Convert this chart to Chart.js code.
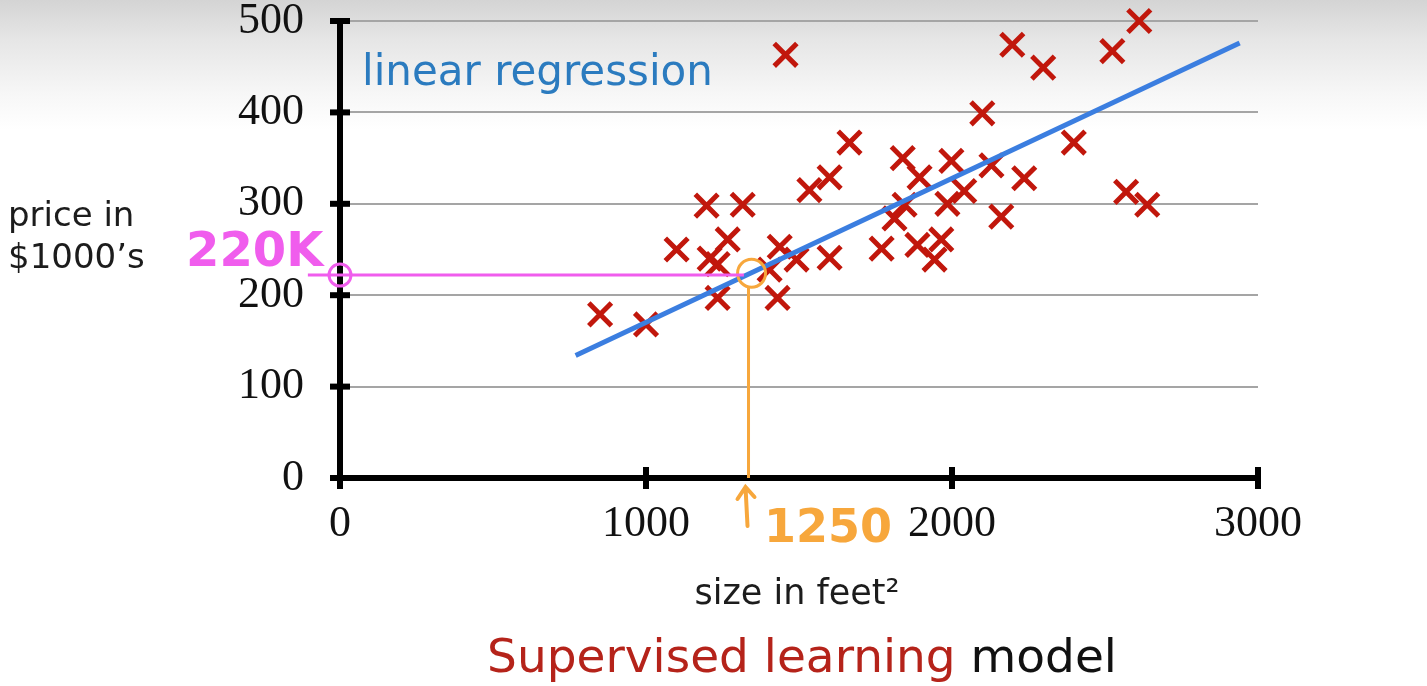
<!DOCTYPE html>
<html>
<head>
<meta charset="utf-8">
<title>Supervised learning model</title>
<script src="https://cdn.jsdelivr.net/npm/chart.js@4.4.1/dist/chart.umd.min.js"></script>
<style>
  html, body { margin: 0; padding: 0; }
  body {
    width: 1427px; height: 686px; overflow: hidden;
    background: linear-gradient(to bottom, #d4d4d4 0px, #e6e6e6 40px, #f7f7f7 95px, #ffffff 130px);
  }
  #wrap { position: relative; width: 1427px; height: 686px; }
</style>
</head>
<body>
<div id="wrap"><canvas id="chart"></canvas></div>
<script>
// house sizes (feet^2) and prices ($1000's)
const sizes = [850, 1000, 1100, 1198, 1208, 1234, 1234, 1267, 1316, 1404, 1430, 1437, 1456, 1492,
  1534, 1600, 1600, 1665, 1770, 1812, 1839, 1845, 1887, 1894, 1943, 1965, 1985, 1998,
  2040, 2099, 2129, 2161, 2197, 2236, 2298, 2398, 2524, 2569, 2612, 2638];
const prices = [179, 168, 250, 298, 240, 234, 197, 261, 299, 228, 197, 253, 463, 239,
  315, 329, 241, 367, 251, 284, 350, 299, 255, 329, 239, 261, 300, 347,
  314, 399, 342, 286, 474, 328, 449, 367, 467, 313, 500, 299];

// fitted line end points
const fitX = [770, 2940];
const fitY = [134, 476];

// hand-drawn marks: 220K across, 1250 up
const guideX = [-105, 1320];
const guideY = [222, 222];
const dropX = [1335, 1335];
const dropY = [208, 0];
const markX = 1345;
const markY = 224;

const xTicks = [0, 1000, 2000, 3000];
const yTicks = [0, 100, 200, 300, 400, 500];

const RED = '#c1170c';
const BLUE = '#3b7ee0';
const PINK = '#f05ded';
const ORANGE = '#f7a73c';

const toPts = (xs, ys) => xs.map((x, i) => ({ x: x, y: ys[i] }));

// black tick marks crossing the axes
const axisTicks = {
    id: 'axisTicks',
    afterDraw(chart) {
        const c = chart.ctx;
        const xs = chart.scales.x, ys = chart.scales.y;
        const x0 = xs.getPixelForValue(0), y0 = ys.getPixelForValue(0);
        c.save();
        c.strokeStyle = '#000';
        c.lineWidth = 6;
        yTicks.forEach(v => {
            const py = ys.getPixelForValue(v);
            c.beginPath(); c.moveTo(x0 - 10, py); c.lineTo(x0 + 10, py); c.stroke();
        });
        xTicks.forEach(v => {
            const px = xs.getPixelForValue(v);
            c.beginPath(); c.moveTo(px, y0 - 11); c.lineTo(px, y0 + 11); c.stroke();
        });
        c.restore();
    }
};

// titles and the handwritten notes
const notes = {
    id: 'notes',
    afterDraw(chart) {
        const c = chart.ctx;
        const xs = chart.scales.x, ys = chart.scales.y;
        c.save();
        c.textBaseline = 'alphabetic';

        c.fillStyle = '#2b7bbf';
        c.font = '42px "DejaVu Sans"';
        c.fillText('linear regression', 362, 85);

        c.fillStyle = '#1c1c1c';
        c.font = '34px "DejaVu Sans"';
        c.fillText('price in', 8, 226);
        c.fillText('$1000\u2019s', 8, 268);

        c.font = '35px "DejaVu Sans"';
        c.textAlign = 'center';
        c.fillText('size in feet\u00b2', 797, 604);

        c.textAlign = 'left';
        c.font = '47px "DejaVu Sans"';
        const red = 'Supervised learning ';
        const w1 = c.measureText(red).width;
        const w2 = c.measureText('model').width;
        const start = 802 - (w1 + w2) / 2;
        c.fillStyle = '#b5231a';
        c.fillText(red, start, 672);
        c.fillStyle = '#111';
        c.fillText('model', start + w1, 672);

        // 220K
        c.fillStyle = PINK;
        c.font = 'bold 48px "DejaVu Sans"';
        c.fillText('220K', 186, 266);

        // 1250 with arrow
        const ax = xs.getPixelForValue(dropX[1]) - 3;
        const ay = ys.getPixelForValue(0);
        c.fillStyle = ORANGE;
        c.font = 'bold 46px "DejaVu Sans"';
        c.fillText('1250', 764, 542);
        c.strokeStyle = ORANGE;
        c.lineWidth = 4;
        c.lineCap = 'round';
        c.beginPath();
        c.moveTo(ax + 2, ay + 48);
        c.lineTo(ax, ay + 9);
        c.moveTo(ax - 8, ay + 21);
        c.lineTo(ax, ay + 9);
        c.lineTo(ax + 9, ay + 19);
        c.stroke();
        c.restore();
    }
};

new Chart(document.getElementById('chart'), {
    type: 'scatter',
    data: {
        datasets: [
            {
                label: 'price',
                data: toPts(sizes, prices),
                pointStyle: 'crossRot',
                pointRadius: 16,
                borderWidth: 5,
                borderColor: RED,
                backgroundColor: RED,
                clip: false,
                order: 2
            },
            {
                label: 'linear regression',
                type: 'line',
                data: toPts(fitX, fitY),
                borderColor: BLUE,
                borderWidth: 5,
                pointRadius: 0,
                order: 1
            },
            {
                label: '220K',
                type: 'line',
                data: toPts(guideX, guideY),
                borderColor: PINK,
                borderWidth: 3,
                pointRadius: 0,
                clip: false,
                order: 0
            },
            {
                label: '220K mark',
                data: [{ x: 0, y: guideY[0] }],
                pointStyle: 'circle',
                pointRadius: 11,
                borderWidth: 3,
                borderColor: PINK,
                backgroundColor: 'rgba(0,0,0,0)',
                clip: false,
                order: 0
            },
            {
                label: '1250',
                type: 'line',
                data: toPts(dropX, dropY),
                borderColor: ORANGE,
                borderWidth: 3,
                pointRadius: 0,
                clip: false,
                order: 0
            },
            {
                label: '1250 mark',
                data: [{ x: markX, y: markY }],
                pointStyle: 'circle',
                pointRadius: 14,
                borderWidth: 3,
                borderColor: ORANGE,
                backgroundColor: 'rgba(0,0,0,0)',
                order: 0
            }
        ]
    },
    options: {
        responsive: true,
        maintainAspectRatio: false,
        animation: false,
        events: [],
        layout: { padding: { top: 18, right: 169, left: 0, bottom: 0 } },
        plugins: { legend: { display: false }, tooltip: { enabled: false } },
        scales: {
            x: {
                type: 'linear',
                min: 0,
                max: 3000,
                ticks: {
                    stepSize: 1000,
                    padding: 20,
                    color: '#111',
                    font: { family: '"Liberation Serif"', size: 44 },
                    callback: v => String(v)
                },
                grid: { display: false, drawTicks: false },
                border: { color: '#000', width: 6 },
                afterFit: s => { s.height = 208; s.paddingLeft = 0; s.paddingRight = 0; }
            },
            y: {
                min: 0,
                max: 500,
                ticks: {
                    stepSize: 100,
                    padding: 36,
                    color: '#111',
                    font: { family: '"Liberation Serif"', size: 44, lineHeight: 0.8 },
                    callback: v => String(v)
                },
                grid: { color: '#a5a5a5', lineWidth: 2, drawTicks: false },
                border: { color: '#000', width: 6 },
                afterFit: s => { s.width = 340; s.paddingTop = 0; s.paddingBottom = 0; }
            }
        }
    },
    plugins: [axisTicks, notes]
});
</script>
</body>
</html>
